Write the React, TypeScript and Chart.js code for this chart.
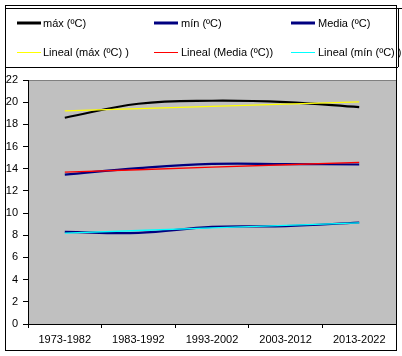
import React, { useEffect, useRef } from "react";
import { Chart, registerables } from "chart.js";

Chart.register(...registerables);

const categories = ["1973-1982", "1983-1992", "1993-2002", "2003-2012", "2013-2022"];
const maxValues = [18.6, 19.86, 20.13, 20.0, 19.55];
const minValues = [8.3, 8.22, 8.75, 8.82, 9.15];
const mediaValues = [13.47, 14.05, 14.43, 14.42, 14.38];
const trendMax = [19.22, 19.42, 19.62, 19.82, 20.02];
const trendMedia = [13.69, 13.91, 14.14, 14.36, 14.58];
const trendMin = [8.2, 8.43, 8.66, 8.89, 9.12];
const yMin = 0;
const yMax = 22;
const yStep = 2;

const FONT = '"Liberation Sans", Arial, sans-serif';

const framePlugin = {
  id: "frame",
  beforeDraw(chart: any) {
    const { ctx, chartArea: a, width, height } = chart;
    ctx.save();
    ctx.fillStyle = "#ffffff";
    ctx.fillRect(0, 0, width, height);
    ctx.fillStyle = "#C0C0C0";
    ctx.fillRect(a.left, a.top, a.right - a.left, a.bottom - a.top);
    ctx.strokeStyle = "#808080";
    ctx.lineWidth = 1;
    ctx.beginPath();
    ctx.moveTo(a.left, Math.round(a.top) + 0.5);
    ctx.lineTo(a.right, Math.round(a.top) + 0.5);
    ctx.stroke();
    ctx.restore();
  },
  afterDraw(chart: any) {
    const { ctx } = chart;
    ctx.save();
    ctx.strokeStyle = "#000000";
    ctx.lineWidth = 1;
    // outer frame
    ctx.strokeRect(5.5, 5.5, 391, 345);
    // legend
    const ds = chart.data.datasets;
    const cols = [
      { mx: 17, tx: 43 },
      { mx: 154, tx: 181 },
      { mx: 291, tx: 318 },
    ];
    const rows = [23, 52];
    ctx.font = `11px ${FONT}`;
    ctx.textBaseline = "middle";
    ctx.textAlign = "left";
    ds.forEach((d: any, i: number) => {
      const c = cols[i % 3];
      const y = rows[Math.floor(i / 3)];
      const thick = d.borderWidth >= 2;
      ctx.strokeStyle = d.borderColor;
      ctx.lineWidth = thick ? 3 : 1;
      ctx.beginPath();
      const yy = thick ? y : y + 0.5;
      ctx.moveTo(c.mx, yy);
      ctx.lineTo(c.mx + 24, yy);
      ctx.stroke();
      ctx.fillStyle = "#000000";
      ctx.fillText(d.label, c.tx, y + 1);
    });
    // legend box
    ctx.strokeStyle = "#000000";
    ctx.lineWidth = 1;
    ctx.beginPath();
    ctx.moveTo(5, 8.5);
    ctx.lineTo(402, 8.5);
    ctx.moveTo(5, 67.5);
    ctx.lineTo(398, 67.5);
    ctx.moveTo(398.5, 8);
    ctx.lineTo(398.5, 67);
    ctx.stroke();
    ctx.restore();
  },
};

export default function App() {
  const ref = useRef<HTMLCanvasElement | null>(null);

  useEffect(() => {
    if (!ref.current) return;
    const chart = new Chart(ref.current, {
      type: "line",
      data: {
        labels: categories,
        datasets: [
          { label: "máx (ºC)", data: maxValues, borderColor: "#000000", borderWidth: 2.2, pointRadius: 0, tension: 0.4, order: 2 },
          { label: "mín (ºC)", data: minValues, borderColor: "#000080", borderWidth: 2.2, pointRadius: 0, tension: 0.4, order: 2 },
          { label: "Media (ºC)", data: mediaValues, borderColor: "#000080", borderWidth: 2.2, pointRadius: 0, tension: 0.4, order: 2 },
          { label: "Lineal (máx (ºC) )", data: trendMax, borderColor: "#FFFF00", borderWidth: 1.3, pointRadius: 0, tension: 0, order: 1 },
          { label: "Lineal (Media (ºC))", data: trendMedia, borderColor: "#FF0000", borderWidth: 1.3, pointRadius: 0, tension: 0, order: 1 },
          { label: "Lineal (mín (ºC) )", data: trendMin, borderColor: "#00FFFF", borderWidth: 1.3, pointRadius: 0, tension: 0, order: 1 },
        ],
      },
      options: {
        animation: false,
        responsive: false,
        devicePixelRatio: 1,
        layout: { padding: { top: 80, right: 6, bottom: 10, left: 0 } },
        plugins: { legend: { display: false }, tooltip: { enabled: false } },
        scales: {
          x: {
            offset: true,
            grid: { offset: true, drawOnChartArea: false, tickLength: 4, color: "#000000" },
            border: { color: "#000000", width: 1 },
            ticks: { color: "#000000", font: { family: FONT, size: 11 }, padding: 5, maxRotation: 0 },
            afterFit: (s: any) => { s.height = 22; },
          },
          y: {
            min: yMin,
            max: yMax,
            grid: { drawOnChartArea: false, tickLength: 5, color: "#000000" },
            border: { color: "#000000", width: 1 },
            ticks: { stepSize: yStep, color: "#000000", font: { family: FONT, size: 11 }, padding: 5 },
            afterFit: (s: any) => { s.width = 28; },
          },
        },
      },
      plugins: [framePlugin],
    });
    return () => chart.destroy();
  }, []);

  return (
    <div style={{ position: "fixed", left: 0, top: 0, width: 402, height: 356, background: "#fff" }}>
      <canvas ref={ref} width={402} height={356} style={{ display: "block" }} />
    </div>
  );
}
